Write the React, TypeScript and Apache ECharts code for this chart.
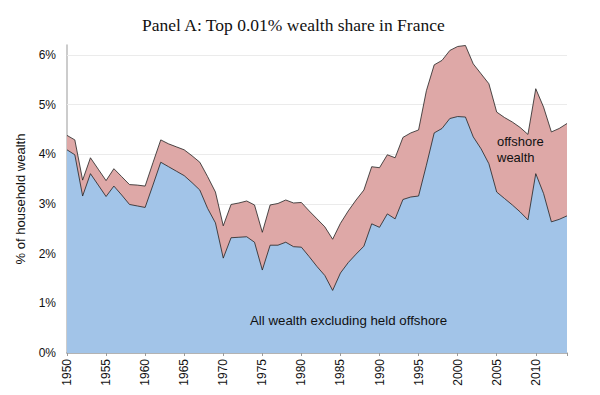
import React, { useEffect, useRef } from "react";
import * as echarts from "echarts";

const years: number[] = [];
for (let y = 1950; y <= 2014; y++) years.push(y);

// Top 0.01% wealth share including offshore wealth (%)
const totalShare = [
  4.38, 4.29, 3.48, 3.93, 3.70, 3.47, 3.71, 3.55, 3.39, 3.38,
  3.36, 3.83, 4.29, 4.21, 4.15, 4.09, 3.97, 3.84, 3.55, 3.24,
  2.56, 2.99, 3.02, 3.06, 2.98, 2.43, 2.98, 3.01, 3.08, 3.02,
  3.03, 2.86, 2.70, 2.54, 2.29, 2.61, 2.86, 3.08, 3.28, 3.75,
  3.73, 3.99, 3.93, 4.34, 4.43, 4.49, 5.28, 5.80, 5.89, 6.09,
  6.17, 6.19, 5.82, 5.62, 5.42, 4.85, 4.74, 4.65, 4.54, 4.40,
  5.32, 4.95, 4.45, 4.52, 4.62,
];

// All wealth excluding held offshore (%)
const excludingOffshore = [
  4.09, 3.99, 3.16, 3.61, 3.38, 3.15, 3.36, 3.18, 2.99, 2.96,
  2.93, 3.38, 3.84, 3.75, 3.66, 3.57, 3.43, 3.28, 2.91, 2.62,
  1.91, 2.32, 2.33, 2.34, 2.23, 1.67, 2.17, 2.17, 2.23, 2.14,
  2.13, 1.94, 1.74, 1.56, 1.26, 1.61, 1.82, 1.99, 2.15, 2.60,
  2.53, 2.80, 2.70, 3.09, 3.14, 3.16, 3.78, 4.43, 4.52, 4.72,
  4.76, 4.75, 4.35, 4.11, 3.81, 3.24, 3.11, 2.98, 2.84, 2.68,
  3.61, 3.21, 2.64, 2.69, 2.76,
];

const gridValues = [1, 2, 3, 4, 5, 6];

const titleText = "Panel A: Top 0.01% wealth share in France";
const yAxisTitle = "% of household wealth";
const offshoreLabel = "offshore\nwealth";
const onshoreLabel = "All wealth excluding held offshore";

export default function App() {
  const ref = useRef<HTMLDivElement>(null);
  useEffect(() => {
    if (!ref.current) return;
    const chart = echarts.init(ref.current, null, { renderer: "svg" });
    const sans = "Liberation Sans";
    chart.setOption({
      animation: false,
      backgroundColor: "#ffffff",
      title: {
        text: titleText,
        left: 137,
        top: 11,
        textStyle: {
          fontFamily: "Liberation Serif",
          fontSize: 17.5,
          fontWeight: "normal",
          color: "#111",
        },
      },
      grid: { left: 67, right: 33, top: 45, bottom: 42, containLabel: false },
      xAxis: {
        type: "value",
        min: 1950,
        max: 2014,
        interval: 5,
        axisLine: { show: true, lineStyle: { color: "#9a9a9a", width: 1.5 } },
        axisTick: { show: true, length: 3, lineStyle: { color: "#9a9a9a" } },
        splitLine: { show: false },
        axisLabel: {
          rotate: 90,
          margin: 6,
          fontFamily: sans,
          fontSize: 12,
          color: "#111",
          formatter: (v: number) => (v % 5 === 0 && v < 2014 ? String(v) : ""),
        },
      },
      yAxis: {
        type: "value",
        min: 0,
        max: 6.2,
        interval: 1,
        name: yAxisTitle,
        nameLocation: "middle",
        nameGap: 40,
        nameTextStyle: { fontFamily: sans, fontSize: 13, color: "#111" },
        axisLine: { show: true, lineStyle: { color: "#bbbbbb", width: 1.5 } },
        axisTick: { show: false },
        splitLine: { show: false },
        axisLabel: {
          margin: 11,
          fontFamily: sans,
          fontSize: 12,
          color: "#111",
          formatter: (v: number) => (Number.isInteger(v) ? v + "%" : ""),
        },
      },
      series: [
        {
          name: "Total",
          type: "line",
          data: years.map((y, i) => [y, totalShare[i]]),
          symbol: "none",
          z: 3,
          lineStyle: { color: "#222", width: 0.8 },
          areaStyle: { color: "#DEA8A7", opacity: 1 },
          silent: true,
          markLine: {
            silent: true,
            symbol: "none",
            z: 1,
            label: { show: false },
            lineStyle: { color: "#ebebeb", type: "solid", width: 1 },
            data: gridValues.map((v) => ({ yAxis: v })),
          },
        },
        {
          name: "Excluding offshore",
          type: "line",
          data: years.map((y, i) => [y, excludingOffshore[i]]),
          symbol: "none",
          z: 4,
          lineStyle: { color: "#222", width: 0.8 },
          areaStyle: { color: "#A2C4E8", opacity: 1 },
          silent: true,
        },
      ],
      graphic: [
        {
          type: "text",
          left: 497,
          top: 133,
          z: 10,
          style: {
            text: offshoreLabel,
            font: "13px 'Liberation Sans'",
            lineHeight: 16,
            fill: "#111",
          },
        },
        {
          type: "text",
          left: 250,
          top: 314,
          z: 10,
          style: {
            text: onshoreLabel,
            font: "13.3px 'Liberation Sans'",
            fill: "#111",
          },
        },
      ],
    });
    return () => chart.dispose();
  }, []);
  return (
    <div
      ref={ref}
      style={{ position: "fixed", left: 0, top: 0, width: 600, height: 395 }}
    />
  );
}
